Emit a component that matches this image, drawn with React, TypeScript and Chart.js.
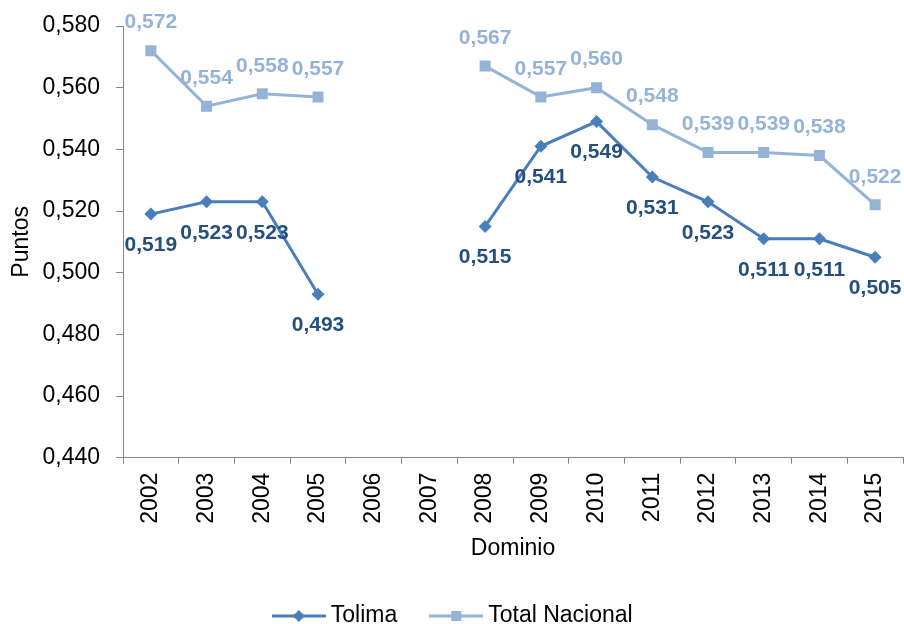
import React, { useEffect, useRef } from 'react';
import { Chart, registerables } from 'chart.js';

Chart.register(...registerables);

const years = ['2002', '2003', '2004', '2005', '2006', '2007', '2008', '2009', '2010', '2011', '2012', '2013', '2014', '2015'];
const tolima = [0.519, 0.523, 0.523, 0.493, null, null, 0.515, 0.541, 0.549, 0.531, 0.523, 0.511, 0.511, 0.505];
const totalNacional = [0.572, 0.554, 0.558, 0.557, null, null, 0.567, 0.557, 0.56, 0.548, 0.539, 0.539, 0.538, 0.522];
const yTickValues = [0.44, 0.46, 0.48, 0.5, 0.52, 0.54, 0.56, 0.58];
const seriesNames = ['Tolima', 'Total Nacional'];

const FAMILY = '"Liberation Sans", Arial, Helvetica, sans-serif';
const LINE_COLORS = ['#4A7EBB', '#95B3D7'];
const LABEL_COLORS = ['#254F7E', '#95B3D7'];
const AXIS_COLOR = '#868686';

const fmt = (v: number) => v.toFixed(3).replace('.', ',');

function makeLegendImg(color: string, kind: 'diamond' | 'square') {
  const c = document.createElement('canvas');
  c.width = 54;
  c.height = 16;
  const g = c.getContext('2d')!;
  g.strokeStyle = color;
  g.lineWidth = 3;
  g.beginPath();
  g.moveTo(0, 8);
  g.lineTo(54, 8);
  g.stroke();
  g.fillStyle = color;
  if (kind === 'diamond') {
    g.beginPath();
    g.moveTo(27, 2);
    g.lineTo(33, 8);
    g.lineTo(27, 14);
    g.lineTo(21, 8);
    g.closePath();
    g.fill();
  } else {
    g.fillRect(22, 3, 10, 10);
  }
  return c;
}

const valueLabelPlugin = {
  id: 'valueLabels',
  afterDatasetsDraw(chart: any) {
    const ctx = chart.ctx;
    ctx.save();
    ctx.font = `bold 21px ${FAMILY}`;
    ctx.textAlign = 'center';
    ctx.textBaseline = 'middle';
    chart.data.datasets.forEach((ds: any, i: number) => {
      const meta = chart.getDatasetMeta(i);
      const off = i === 0 ? 31 : -28;
      ctx.fillStyle = LABEL_COLORS[i];
      meta.data.forEach((el: any, j: number) => {
        const v = ds.data[j];
        if (v == null) return;
        ctx.fillText(fmt(v), el.x, el.y + off);
      });
    });
    ctx.restore();
  },
};

const legendShiftPlugin = {
  id: 'legendShift',
  afterLayout(chart: any) {
    const lg = chart.legend;
    if (!lg) return;
    lg.top += 13.5;
    lg.bottom += 13.5;
    lg.left += 4;
    lg.right += 4;
  },
};

export default function App() {
  const ref = useRef<HTMLCanvasElement>(null);

  useEffect(() => {
    if (!ref.current) return;
    const legendImgs = [makeLegendImg(LINE_COLORS[0], 'diamond'), makeLegendImg(LINE_COLORS[1], 'square')];
    const font = { size: 23, family: FAMILY };
    const chart = new Chart(ref.current, {
      type: 'line',
      data: {
        labels: years,
        datasets: [
          {
            label: seriesNames[0],
            data: tolima,
            borderColor: LINE_COLORS[0],
            backgroundColor: LINE_COLORS[0],
            borderWidth: 3,
            pointStyle: 'rectRot',
            pointRadius: 6.5,
            pointBorderWidth: 0,
            pointBackgroundColor: LINE_COLORS[0],
            tension: 0,
            spanGaps: false,
          },
          {
            label: seriesNames[1],
            data: totalNacional,
            borderColor: LINE_COLORS[1],
            backgroundColor: LINE_COLORS[1],
            borderWidth: 3,
            pointStyle: 'rect',
            pointRadius: 7.8,
            pointBorderWidth: 0,
            pointBackgroundColor: LINE_COLORS[1],
            tension: 0,
            spanGaps: false,
          },
        ],
      },
      options: {
        responsive: false,
        animation: false,
        layout: { autoPadding: false, padding: { top: 26, right: 1, left: 0, bottom: 0 } },
        plugins: {
          tooltip: { enabled: false },
          legend: {
            position: 'bottom',
            labels: {
              usePointStyle: true,
              pointStyleWidth: 41,
              padding: 38.5,
              font,
              color: '#000',
              generateLabels: (c: any) =>
                c.data.datasets.map((ds: any, i: number) => ({
                  text: ds.label,
                  pointStyle: legendImgs[i],
                  fillStyle: LINE_COLORS[i],
                  strokeStyle: LINE_COLORS[i],
                  lineWidth: 0,
                  hidden: false,
                  datasetIndex: i,
                  fontColor: '#000',
                })),
            },
          },
        },
        scales: {
          x: {
            type: 'category',
            offset: true,
            ticks: { minRotation: 90, maxRotation: 90, autoSkip: false, font, color: '#000', padding: 9 },
            grid: { offset: true, drawOnChartArea: false, tickLength: 6, color: AXIS_COLOR },
            border: { color: AXIS_COLOR, width: 1 },
            title: { display: true, text: 'Dominio', font, color: '#000', padding: { top: 0, bottom: -10 } },
            afterFit: (s: any) => {
              s.height = 94.8;
              s.paddingLeft = 0;
              s.paddingRight = 0;
            },
          },
          y: {
            min: 0.44,
            max: 0.58,
            afterBuildTicks: (s: any) => {
              s.ticks = yTickValues.map((v) => ({ value: v }));
            },
            ticks: { callback: (v: any) => fmt(Number(v)), font, color: '#000', padding: 16 },
            grid: { drawOnChartArea: false, tickLength: 7, color: AXIS_COLOR },
            border: { color: AXIS_COLOR, width: 1 },
            title: { display: true, text: 'Puntos', font, color: '#000', padding: { top: 8, bottom: 0 } },
            afterFit: (s: any) => {
              s.width = 123;
              s.paddingTop = 0;
              s.paddingBottom = 0;
            },
          },
        },
      },
      plugins: [valueLabelPlugin, legendShiftPlugin],
    } as any);
    return () => chart.destroy();
  }, []);

  return (
    <div style={{ position: 'absolute', left: 0, top: 0, width: 904, height: 624, background: '#fff' }}>
      <canvas ref={ref} width={904} height={624} style={{ display: 'block' }} />
    </div>
  );
}
